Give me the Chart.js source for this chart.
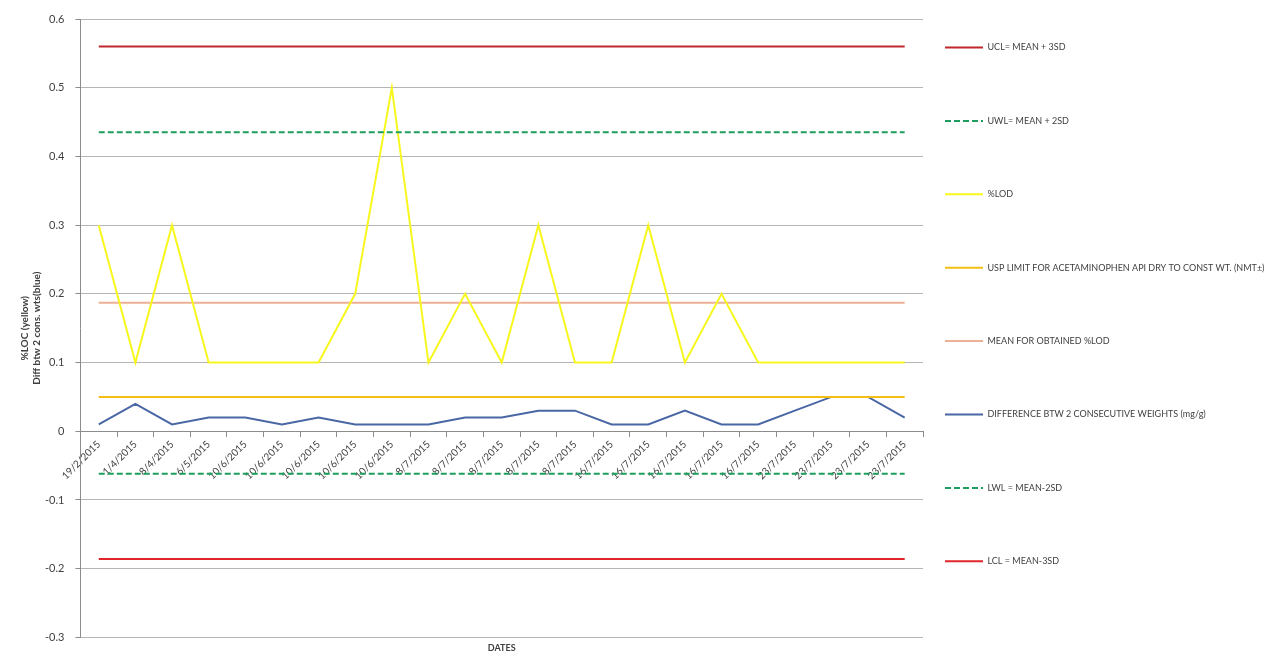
<!DOCTYPE html>
<html>
<head>
<meta charset="utf-8">
<title>%LOD control chart</title>
<script src="https://cdn.jsdelivr.net/npm/chart.js@4.4.1/dist/chart.umd.min.js"></script>
<style>
  html, body { margin: 0; padding: 0; background: #ffffff; }
  #wrap { width: 1288px; height: 655px; }
</style>
</head>
<body>
<div id="wrap"><canvas id="lodChart" width="1288" height="655"></canvas></div>
<script>
// fechas de los ensayos (eje x)
const dates = [
    '19/2/2015', '1/4/2015', '8/4/2015', '6/5/2015',
    '10/6/2015', '10/6/2015', '10/6/2015', '10/6/2015', '10/6/2015',
    '8/7/2015', '8/7/2015', '8/7/2015', '8/7/2015', '8/7/2015',
    '16/7/2015', '16/7/2015', '16/7/2015', '16/7/2015', '16/7/2015',
    '23/7/2015', '23/7/2015', '23/7/2015', '23/7/2015'
];

// %LOD (amarillo)
const lodValues = [0.3, 0.1, 0.3, 0.1, 0.1, 0.1, 0.1, 0.2, 0.5, 0.1, 0.2, 0.1,
                   0.3, 0.1, 0.1, 0.3, 0.1, 0.2, 0.1, 0.1, 0.1, 0.1, 0.1];

// diferencia entre 2 pesadas consecutivas (azul)
const diffValues = [0.01, 0.04, 0.01, 0.02, 0.02, 0.01, 0.02, 0.01, 0.01, 0.01, 0.02, 0.02,
                    0.03, 0.03, 0.01, 0.01, 0.03, 0.01, 0.01, 0.03, 0.05, 0.05, 0.02];

// límites de control
const ucl = 0.56;
const uwl = 0.435;
const meanLod = 0.187;
const uspLimit = 0.05;
const lwl = -0.062;
const lcl = -0.186;

const yTicks = [-0.3, -0.2, -0.1, 0, 0.1, 0.2, 0.3, 0.4, 0.5, 0.6];

const flat = v => dates.map(() => v);
const fontFamily = 'Lato, "Liberation Sans", sans-serif';

// la leyenda necesita más ancho que el límite por defecto (1/4 del lienzo)
const wideLegend = {
    id: 'wideLegend',
    beforeLayout(chart) {
        const legend = chart.legend;
        if (!legend || legend._widePatched) return;
        const origFit = legend.fit;
        legend.fit = function() {
            origFit.call(this);
            this.width = 365;
        };
        legend._widePatched = true;
    }
};

document.addEventListener('DOMContentLoaded', function() {
    const ctx = document.getElementById('lodChart');

    const lineDefaults = {
        fill: false,
        tension: 0,
        pointRadius: 0,
        pointHoverRadius: 0,
        borderWidth: 2
    };

    new Chart(ctx, {
        type: 'line',
        plugins: [wideLegend],
        data: {
            labels: dates,
            datasets: [
                { ...lineDefaults, label: 'UCL= MEAN + 3SD', data: flat(ucl), borderColor: '#C0282E' },
                { ...lineDefaults, label: 'UWL= MEAN + 2SD', data: flat(uwl), borderColor: '#1E9E5E', borderDash: [6, 3] },
                { ...lineDefaults, label: '%LOD', data: lodValues, borderColor: '#F7F71E' },
                { ...lineDefaults, label: 'USP LIMIT FOR ACETAMINOPHEN API DRY TO CONST WT. (NMT±)', data: flat(uspLimit), borderColor: '#F5BE14' },
                { ...lineDefaults, label: 'MEAN FOR OBTAINED %LOD', data: flat(meanLod), borderColor: '#EDB095' },
                { ...lineDefaults, label: 'DIFFERENCE BTW 2 CONSECUTIVE WEIGHTS (mg/g)', data: diffValues, borderColor: '#4A67A5' },
                { ...lineDefaults, label: 'LWL = MEAN-2SD', data: flat(lwl), borderColor: '#1E9E5E', borderDash: [6, 3] },
                { ...lineDefaults, label: 'LCL = MEAN-3SD', data: flat(lcl), borderColor: '#E0262A' }
            ]
        },
        options: {
            responsive: false,
            animation: false,
            layout: {
                padding: { top: 19, left: 19, right: 0, bottom: 0 }
            },
            plugins: {
                tooltip: { enabled: false },
                title: {
                    display: true,
                    text: 'DATES',
                    position: 'bottom',
                    fullSize: false,
                    color: '#404040',
                    font: { family: fontFamily, size: 9, weight: 'bold', lineHeight: 1.2 },
                    padding: { top: 5, bottom: -2 }
                },
                legend: {
                    position: 'right',
                    align: 'start',
                    title: {
                        display: true,
                        text: '',
                        padding: 0,
                        font: { size: 2, lineHeight: 1 }
                    },
                    labels: {
                        usePointStyle: true,
                        pointStyle: 'line',
                        pointStyleWidth: 38,
                        padding: 22,
                        color: '#404040',
                        font: { family: fontFamily, size: 9, lineHeight: '51.4px' },
                        generateLabels: function(chart) {
                            const items = Chart.defaults.plugins.legend.labels.generateLabels(chart);
                            items.forEach(item => {
                                const ds = chart.data.datasets[item.datasetIndex];
                                item.text = [item.text];
                                item.lineDash = ds.borderDash || [];
                                item.lineWidth = 2;
                                item.strokeStyle = ds.borderColor;
                            });
                            return items;
                        }
                    }
                }
            },
            scales: {
                x: {
                    type: 'category',
                    position: { y: 0 },
                    offset: true,
                    border: { display: true, color: '#8C8C8C', width: 1 },
                    grid: {
                        display: true,
                        offset: true,
                        drawOnChartArea: false,
                        drawTicks: true,
                        tickLength: 5,
                        tickColor: '#8C8C8C'
                    },
                    ticks: {
                        autoSkip: false,
                        minRotation: 45,
                        maxRotation: 45,
                        padding: 2,
                        color: '#404040',
                        font: { family: fontFamily, size: 10 }
                    }
                },
                y: {
                    min: -0.3,
                    max: 0.6,
                    afterBuildTicks: function(axis) {
                        axis.ticks = yTicks.map(v => ({ value: v }));
                    },
                    border: { display: true, color: '#8C8C8C', width: 1 },
                    grid: {
                        color: '#B5B5B5',
                        lineWidth: 1,
                        drawTicks: true,
                        tickLength: 5,
                        tickColor: '#8C8C8C'
                    },
                    ticks: {
                        padding: 11,
                        color: '#404040',
                        font: { family: fontFamily, size: 11 },
                        callback: function(value) {
                            return Math.round(value * 10) / 10;
                        }
                    },
                    title: {
                        display: true,
                        text: ['%LOC (yellow)', 'Diff btw 2 cons. wts(blue)'],
                        color: '#404040',
                        padding: { top: 0, bottom: -9 },
                        font: { family: fontFamily, size: 10, weight: 'bold', lineHeight: 1.2 }
                    }
                }
            }
        }
    });
});
</script>
</body>
</html>
